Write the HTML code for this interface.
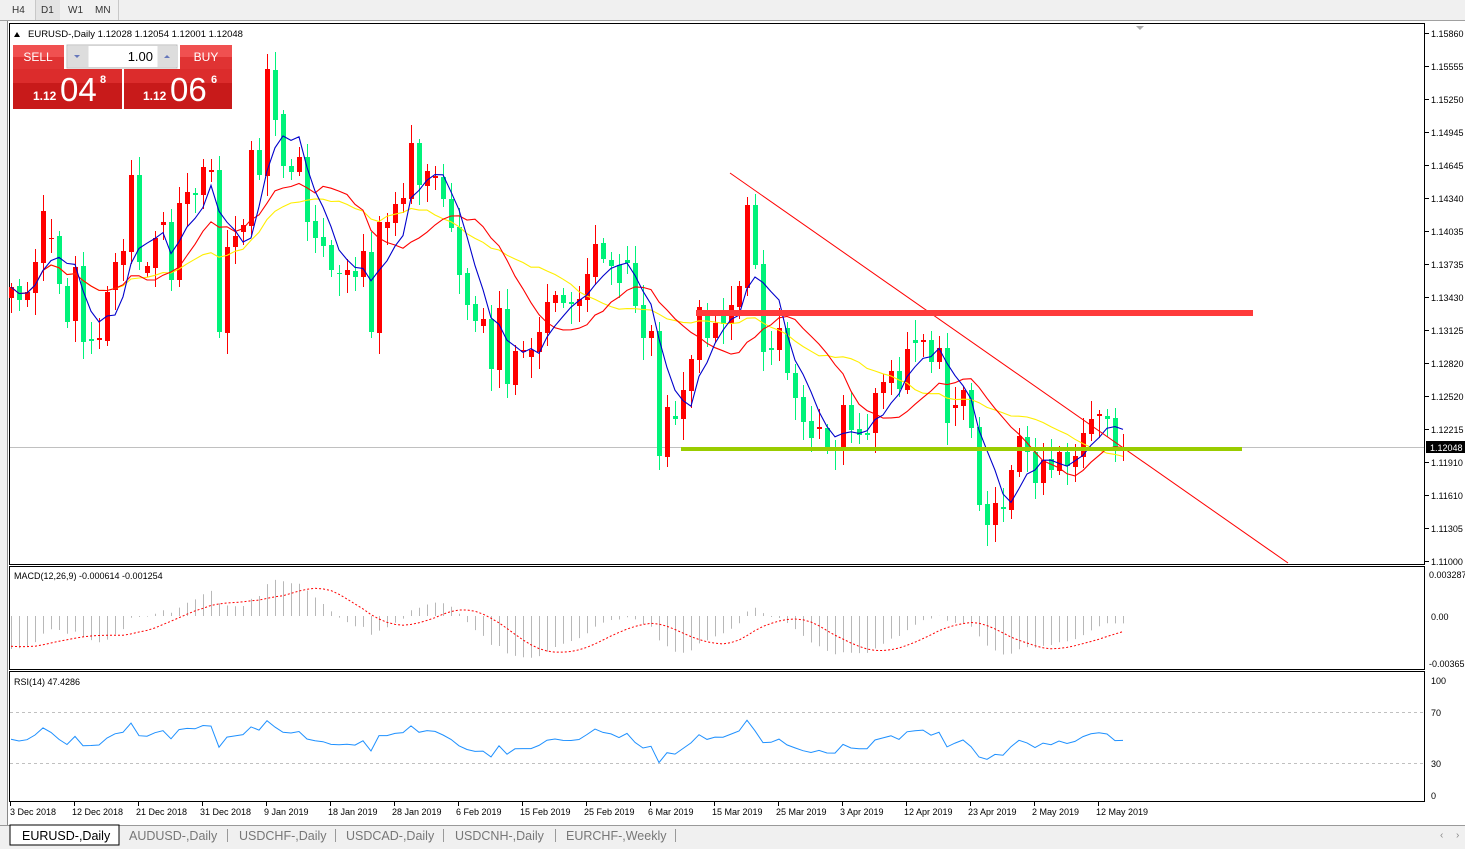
<!DOCTYPE html>
<html><head><meta charset="utf-8"><style>
body{margin:0;width:1465px;height:849px;overflow:hidden;background:#fff;font-family:"Liberation Sans",sans-serif;}
svg text{font-family:"Liberation Sans",sans-serif;}
</style></head><body>
<svg id="s" width="1465" height="849" xmlns="http://www.w3.org/2000/svg">
<rect x="0" y="0" width="1465" height="849" fill="#fff"/>
<rect x="0" y="0" width="1465" height="21" fill="#f0f0f0"/>
<line x1="0" y1="20.5" x2="1465" y2="20.5" stroke="#a0a0a0"/>
<line x1="35.5" y1="0" x2="35.5" y2="20" stroke="#c8c8c8"/>
<line x1="118.5" y1="0" x2="118.5" y2="20" stroke="#c8c8c8"/>
<rect x="36" y="0" width="24" height="20" fill="#e4e4e4"/>
<text x="12" y="13" font-size="10" fill="#333">H4</text>
<text x="41" y="13" font-size="10" fill="#333">D1</text>
<text x="68" y="13" font-size="10" fill="#333">W1</text>
<text x="95" y="13" font-size="10" fill="#333">MN</text>
<rect x="0" y="21" width="7" height="805" fill="#f0f0f0"/>
<line x1="7.5" y1="21" x2="7.5" y2="826" stroke="#888"/>
<rect x="9.5" y="23.5" width="1415" height="541" fill="none" stroke="#000"/>
<rect x="9.5" y="566.5" width="1415" height="103" fill="none" stroke="#000"/>
<rect x="9.5" y="671.5" width="1415" height="130" fill="none" stroke="#000"/>
<polygon points="1136,26 1144,26 1140,30" fill="#aaa"/>
<g id="g"></g>
<text x="28" y="37" font-size="9.5" fill="#000">EURUSD-,Daily  1.12028 1.12054 1.12001 1.12048</text>
<polygon points="14,37 20,37 17,32" fill="#000"/>
<rect x="13" y="45" width="51" height="24" fill="#e03333"/>
<rect x="13" y="45" width="51" height="12" fill="#f05050"/>
<text x="38" y="61" font-size="12" fill="#fff" text-anchor="middle">SELL</text>
<rect x="67" y="45" width="110" height="23" fill="#eee" stroke="#bbb"/>
<rect x="68" y="46" width="20" height="21" fill="#ddd"/>
<rect x="158" y="46" width="19" height="21" fill="#ddd"/>
<polygon points="74,55 80,55 77,58" fill="#6677bb"/>
<polygon points="164,58 170,58 167,55" fill="#6677bb"/>
<rect x="89" y="46" width="68" height="21" fill="#fff"/>
<text x="153" y="61" font-size="13" fill="#000" text-anchor="end">1.00</text>
<rect x="180" y="45" width="52" height="24" fill="#e03333"/>
<rect x="180" y="45" width="52" height="12" fill="#f05050"/>
<text x="206" y="61" font-size="12" fill="#fff" text-anchor="middle">BUY</text>
<rect x="13" y="69" width="109" height="40" fill="#c81a1a"/>
<rect x="124" y="69" width="108" height="40" fill="#c81a1a"/>
<rect x="13" y="69" width="109" height="14" fill="#dc2c2c"/>
<rect x="124" y="69" width="108" height="14" fill="#dc2c2c"/>
<text x="33" y="100" font-size="12" font-weight="bold" fill="#fff">1.12</text>
<text x="60" y="101" font-size="33" fill="#fff">04</text>
<text x="100" y="83" font-size="11" font-weight="bold" fill="#fff">8</text>
<text x="143" y="100" font-size="12" font-weight="bold" fill="#fff">1.12</text>
<text x="170" y="101" font-size="33" fill="#fff">06</text>
<text x="211" y="83" font-size="11" font-weight="bold" fill="#fff">6</text>
<text x="14" y="579" font-size="9" fill="#000">MACD(12,26,9) -0.000614 -0.001254</text>
<text x="14" y="685" font-size="9" fill="#000">RSI(14) 47.4286</text>
<rect x="0" y="825" width="1465" height="24" fill="#f0f0f0"/>
<line x1="0" y1="825.5" x2="1465" y2="825.5" stroke="#999"/>
<rect x="10" y="825" width="109" height="20" fill="#fff" stroke="#000"/>
<text x="22" y="840" font-size="12.5" fill="#000">EURUSD-,Daily</text>
<text x="129" y="840" font-size="12.5" fill="#777">AUDUSD-,Daily</text>
<text x="239" y="840" font-size="12.5" fill="#777">USDCHF-,Daily</text>
<text x="346" y="840" font-size="12.5" fill="#777">USDCAD-,Daily</text>
<text x="455" y="840" font-size="12.5" fill="#777">USDCNH-,Daily</text>
<text x="566" y="840" font-size="12.5" fill="#777">EURCHF-,Weekly</text>
<g stroke="#999"><line x1="227.5" y1="829" x2="227.5" y2="842"/><line x1="335.5" y1="829" x2="335.5" y2="842"/><line x1="443.5" y1="829" x2="443.5" y2="842"/><line x1="555.5" y1="829" x2="555.5" y2="842"/><line x1="675.5" y1="829" x2="675.5" y2="842"/></g>
<text x="1440" y="838" font-size="10" fill="#888">‹</text><text x="1456" y="838" font-size="10" fill="#888">›</text>
</svg>
<script>
var C=[[287,298,'r'],[286,300,'g'],[292,300,'r'],[262,293,'r'],[211,263,'r'],[238,239,'r'],[236,284,'g'],[286,322,'g'],[267,321,'r'],[266,342,'g'],[339,341,'g'],[338,340,'r'],[292,341,'r'],[262,290,'r'],[251,265,'r'],[175,252,'r'],[175,262,'g'],[266,273,'r'],[238,268,'r'],[222,225,'r'],[222,280,'g'],[203,280,'r'],[192,204,'r'],[193,195,'g'],[167,195,'r'],[170,172,'r'],[170,332,'g'],[247,333,'r'],[236,247,'r'],[225,232,'r'],[150,226,'r'],[150,175,'g'],[69,176,'r'],[70,120,'g'],[114,166,'g'],[166,172,'g'],[157,172,'r'],[157,222,'g'],[221,238,'g'],[237,246,'g'],[245,270,'g'],[273,274,'g'],[270,275,'r'],[271,277,'g'],[251,277,'r'],[252,332,'g'],[222,333,'r'],[222,228,'r'],[204,223,'r'],[198,204,'r'],[143,199,'r'],[143,185,'g'],[171,186,'r'],[176,178,'r'],[177,199,'g'],[199,228,'g'],[227,275,'g'],[273,305,'g'],[304,321,'g'],[319,326,'r'],[319,369,'g'],[308,370,'r'],[309,384,'g'],[351,385,'r'],[350,352,'r'],[350,357,'r'],[332,352,'r'],[302,333,'r'],[295,303,'r'],[295,303,'g'],[302,304,'g'],[299,306,'r'],[274,300,'r'],[244,277,'r'],[243,259,'g'],[260,266,'g'],[265,283,'g'],[260,263,'g'],[263,306,'g'],[305,338,'g'],[331,338,'r'],[331,456,'g'],[407,457,'r'],[416,419,'g'],[390,419,'r'],[359,391,'r'],[307,360,'r'],[313,338,'g'],[323,338,'r'],[314,324,'g'],[305,324,'r'],[286,307,'r'],[205,288,'r'],[205,265,'g'],[264,352,'g'],[348,350,'g'],[328,350,'r'],[328,373,'g'],[373,398,'g'],[397,422,'g'],[421,438,'g'],[427,429,'r'],[428,448,'g'],[447,449,'g'],[405,448,'r'],[405,430,'g'],[429,435,'g'],[433,435,'g'],[393,433,'r'],[382,393,'r'],[371,383,'r'],[371,389,'g'],[349,390,'r'],[340,343,'g'],[340,342,'r'],[340,362,'g'],[348,362,'r'],[348,423,'g'],[405,408,'r'],[390,406,'r'],[390,428,'g'],[427,505,'g'],[504,525,'g'],[503,525,'r'],[507,509,'g'],[470,510,'r'],[436,472,'r'],[437,452,'g'],[452,483,'g'],[460,483,'r'],[459,470,'g'],[452,471,'r'],[452,466,'g'],[456,467,'r'],[433,457,'r'],[419,434,'r'],[414,416,'r'],[416,419,'g'],[418,448,'g'],[447,451,'r']];
var o='';
function X(i){return 11+i*8;}
o+='<line x1="10" y1="447.5" x2="1424" y2="447.5" stroke="#c0c0c0"/>';
var closes=[];
for(var i=0;i<C.length;i++){
 var t=C[i][0],b=C[i][1],col=C[i][2]=='r'?'#ff0000':'#00f27a';
 var w1=4+((i*37)%17),w2=4+((i*53+11)%19);
 var x=X(i);
 o+='<line x1="'+(x+.5)+'" y1="'+(t-w1)+'" x2="'+(x+.5)+'" y2="'+(b+w2)+'" stroke="'+col+'"/>';
 o+='<rect x="'+(x-2)+'" y="'+t+'" width="5" height="'+Math.max(1,b-t)+'" fill="'+col+'"/>';
 closes.push(C[i][2]=='r'?t:b);
}
function sma(n){var r=[];for(var i=0;i<closes.length;i++){var s=0,k=0;for(var j=Math.max(0,i-n+1);j<=i;j++){s+=closes[j];k++;}r.push(s/k);}return r;}
function pl(a,col,start){var p='';for(var i=start;i<a.length;i++)p+=(i==start?'M':'L')+X(i)+','+a[i].toFixed(1);return '<path d="'+p+'" fill="none" stroke="'+col+'" stroke-width="1.1"/>';}
o+=pl(sma(21),'#ffee00',0)+pl(sma(13),'#ff0000',0)+pl(sma(5),'#0000cc',0);
o+='<line x1="730" y1="173" x2="1288" y2="563" stroke="#ff0000" stroke-width="1"/>';
o+='<rect x="696" y="310" width="557" height="6" fill="#ff3b3b"/>';
o+='<rect x="681" y="447" width="561" height="4" fill="#99cc00"/>';
var P=['1.15860','1.15555','1.15250','1.14945','1.14645','1.14340','1.14035','1.13735','1.13430','1.13125','1.12820','1.12520','1.12215','1.11910','1.11610','1.11305','1.11000'];
for(var k=0;k<P.length;k++){var y=33+k*33;o+='<line x1="1425" y1="'+(y+.5)+'" x2="1429" y2="'+(y+.5)+'" stroke="#000"/><text x="1431" y="'+(y+4)+'" font-size="9" fill="#000">'+P[k]+'</text>';}
o+='<rect x="1426" y="441" width="39" height="12" fill="#000"/><text x="1430" y="451" font-size="9" fill="#fff">1.12048</text>';
o+='<text x="1429" y="578" font-size="9">0.003287</text><text x="1431" y="620" font-size="9">0.00</text><text x="1429" y="667" font-size="9">-0.00365</text>';
o+='<text x="1431" y="684" font-size="9">100</text><text x="1431" y="716" font-size="9">70</text><text x="1431" y="767" font-size="9">30</text><text x="1431" y="799" font-size="9">0</text>';
var pr=closes.map(function(y){return 1.1586-(y-33)*0.0486/528;});
function ema(a,n,seed){var k=2/(n+1),r=[],v=seed;for(var i=0;i<a.length;i++){v=a[i]*k+v*(1-k);r.push(v);}return r;}
var e12=ema(pr,12,1.1358),e26=ema(pr,26,1.1386);
var m=pr.map(function(_,i){return e12[i]-e26[i];});
var sg=[],sv=-0.0024;for(var i=0;i<m.length;i++){var s=0,c=0;for(var j=Math.max(0,i-8);j<=i;j++){s+=m[j];c++;}sg.push(i<8?(s+sv*(9-c))/9:s/9);}
function my(v){return 616-v*12500;}
for(var i=0;i<m.length;i++){o+='<line x1="'+(X(i)+.5)+'" y1="616" x2="'+(X(i)+.5)+'" y2="'+my(m[i]).toFixed(1)+'" stroke="#b8b8b8"/>';}
var p='';for(var i=0;i<sg.length;i++)p+=(i?'L':'M')+X(i)+','+my(sg[i]).toFixed(1);
o+='<path d="'+p+'" fill="none" stroke="#ff0000" stroke-dasharray="2,2"/>';
o+='<line x1="10" y1="712.5" x2="1424" y2="712.5" stroke="#c0c0c0" stroke-dasharray="3,3"/><line x1="10" y1="763.5" x2="1424" y2="763.5" stroke="#c0c0c0" stroke-dasharray="3,3"/>';
var ag=0.0016,al=0.0017,rp='';
for(var i=0;i<pr.length;i++){var d=i?pr[i]-pr[i-1]:0;ag=(ag*13+Math.max(d,0))/14;al=(al*13+Math.max(-d,0))/14;var r=100-100/(1+ag/al);var y=801-r*1.275;rp+=(i?'L':'M')+X(i)+','+y.toFixed(1);}
o+='<path d="'+rp+'" fill="none" stroke="#1e90ff" stroke-width="1"/>';
var D=['3 Dec 2018','12 Dec 2018','21 Dec 2018','31 Dec 2018','9 Jan 2019','18 Jan 2019','28 Jan 2019','6 Feb 2019','15 Feb 2019','25 Feb 2019','6 Mar 2019','15 Mar 2019','25 Mar 2019','3 Apr 2019','12 Apr 2019','23 Apr 2019','2 May 2019','12 May 2019'];
for(var k=0;k<D.length;k++){var x=10+k*64;o+='<line x1="'+(x+.5)+'" y1="802" x2="'+(x+.5)+'" y2="806" stroke="#000"/><text x="'+(x+(k?-2:0))+'" y="815" font-size="9" fill="#000">'+D[k]+'</text>';}
document.getElementById('g').innerHTML=o;
</script>
</body></html>
